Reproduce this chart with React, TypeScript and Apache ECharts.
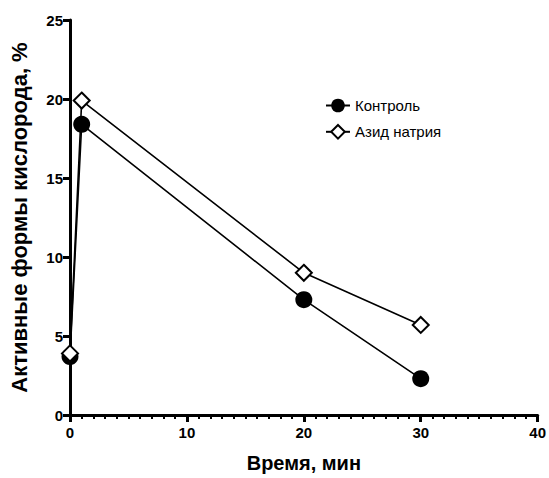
import React, { useEffect, useRef } from "react";
import * as echarts from "echarts";

const seriesNames = ["Контроль", "Азид натрия"];
const timeMin = [0, 1, 20, 30];
const controlValues = [3.7, 18.4, 7.3, 2.3];
const azideValues = [3.9, 19.9, 9.0, 5.7];
const xTicks = [0, 10, 20, 30, 40];
const yTicks = [0, 5, 10, 15, 20, 25];

export default function App() {
  const ref = useRef<HTMLDivElement>(null);
  useEffect(() => {
    const chart = echarts.init(ref.current!, null, { renderer: "svg" });
    const font = "Liberation Sans, Arial, sans-serif";
    chart.setOption({
      animation: false,
      backgroundColor: "#fff",
      grid: { left: 68, right: 9, top: 20, bottom: 60, containLabel: false },
      legend: {
        left: 320,
        top: 93,
        orient: "vertical",
        itemGap: 11,
        itemWidth: 24,
        itemHeight: 17,
        textStyle: { fontFamily: font, fontSize: 15, color: "#000" },
        data: seriesNames,
      },
      xAxis: {
        type: "value",
        min: xTicks[0],
        max: xTicks[xTicks.length - 1],
        interval: 10,
        name: "Время, мин",
        nameLocation: "middle",
        nameGap: 38,
        nameTextStyle: { fontFamily: font, fontSize: 20, fontWeight: "bold", color: "#000" },
        axisLine: { show: true, lineStyle: { color: "#000", width: 3 } },
        axisTick: { show: true, length: 7, lineStyle: { color: "#000", width: 3 } },
        minorTick: { show: true, splitNumber: 10, length: 4, lineStyle: { color: "#000", width: 2 } },
        splitLine: { show: false },
        axisLabel: { fontFamily: font, fontSize: 15, fontWeight: "bold", color: "#000", margin: 10 },
      },
      yAxis: {
        type: "value",
        min: yTicks[0],
        max: yTicks[yTicks.length - 1],
        interval: 5,
        name: "Активные формы кислорода, %",
        nameLocation: "middle",
        nameGap: 40,
        nameTextStyle: { fontFamily: font, fontSize: 22, fontWeight: "bold", color: "#000" },
        axisLine: { show: true, lineStyle: { color: "#000", width: 3 } },
        axisTick: { show: true, length: 7, lineStyle: { color: "#000", width: 3 } },
        splitLine: { show: false },
        axisLabel: { fontFamily: font, fontSize: 15, fontWeight: "bold", color: "#000", margin: 7 },
      },
      series: [
        {
          name: seriesNames[0],
          type: "line",
          data: timeMin.map((t, i) => [t, controlValues[i]]),
          symbol: "circle",
          symbolSize: 17,
          lineStyle: { color: "#000", width: 1.6 },
          itemStyle: { color: "#000", borderColor: "#000", borderWidth: 0 },
          z: 2,
        },
        {
          name: seriesNames[1],
          type: "line",
          data: timeMin.map((t, i) => [t, azideValues[i]]),
          symbol: "diamond",
          symbolSize: 16,
          lineStyle: { color: "#000", width: 1.6 },
          itemStyle: { color: "#fff", borderColor: "#000", borderWidth: 2 },
          z: 3,
        },
      ],
    });
    return () => chart.dispose();
  }, []);
  return <div ref={ref} style={{ width: 549, height: 478, position: "absolute", left: 0, top: 0 }} />;
}
